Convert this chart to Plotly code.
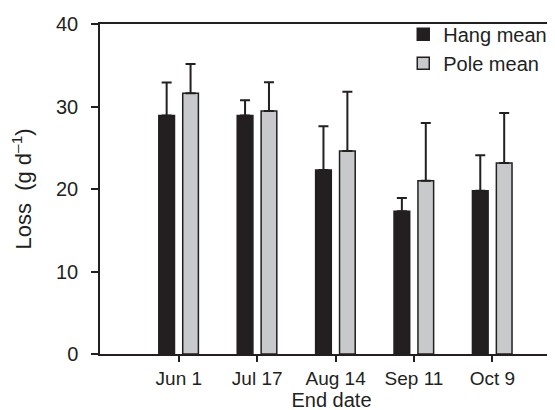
import plotly.graph_objects as go

categories = ["Jun 1", "Jul 17", "Aug 14", "Sep 11", "Oct 9"]
hang_mean = [28.9, 28.9, 22.3, 17.3, 19.8]
hang_err = [4.0, 1.85, 5.3, 1.6, 4.3]
pole_mean = [31.6, 29.45, 24.6, 21.0, 23.15]
pole_err = [3.55, 3.5, 7.2, 7.0, 6.05]
y_ticks = [0, 10, 20, 30, 40]

dark = "#231f20"
font_family = "Liberation Sans, Arial, Helvetica, sans-serif"

fig = go.Figure()
fig.add_trace(go.Bar(
    name="Hang mean", x=categories, y=hang_mean,
    offset=-0.255, width=0.2,
    marker=dict(color=dark, line=dict(color=dark, width=1.5)),
    error_y=dict(type="data", array=hang_err, arrayminus=[0]*5, symmetric=False,
                 color=dark, thickness=2, width=5),
))
fig.add_trace(go.Bar(
    name="Pole mean", x=categories, y=pole_mean,
    offset=0.05, width=0.2,
    marker=dict(color="#c8c9cb", line=dict(color=dark, width=1.5)),
    error_y=dict(type="data", array=pole_err, arrayminus=[0]*5, symmetric=False,
                 color=dark, thickness=2, width=5),
))

fig.update_layout(
    width=555, height=410,
    margin=dict(l=92, r=0, t=16, b=64),
    plot_bgcolor="white", paper_bgcolor="white",
    font=dict(family=font_family, color=dark, size=20),
    barmode="group",
    showlegend=True,
    legend=dict(x=0.655, y=1.028, xanchor="left", yanchor="top",
                font=dict(size=20, color=dark), bgcolor="rgba(0,0,0,0)",
                tracegroupgap=0),
    xaxis=dict(
        range=[-1.005, 4.9], showgrid=False, zeroline=False,
        showline=True, linecolor=dark, linewidth=1.5, mirror=True,
        ticks="outside", ticklen=6, tickwidth=1.5, tickcolor=dark,
        tickfont=dict(size=19),
        title=dict(text="End date", font=dict(size=20), standoff=4),
    ),
    yaxis=dict(
        range=[0, 40], tickvals=y_ticks, showgrid=False, zeroline=False,
        showline=True, linecolor=dark, linewidth=1.5,
        ticks="outside", ticklen=7, tickwidth=1.5, tickcolor=dark,
        tickfont=dict(size=20), ticklabelstandoff=9,
        title=dict(text="Loss\u00a0\u00a0(g d<sup>\u20131</sup>)", font=dict(size=22), standoff=19),
    ),
)

fig.write_html("out.html")
